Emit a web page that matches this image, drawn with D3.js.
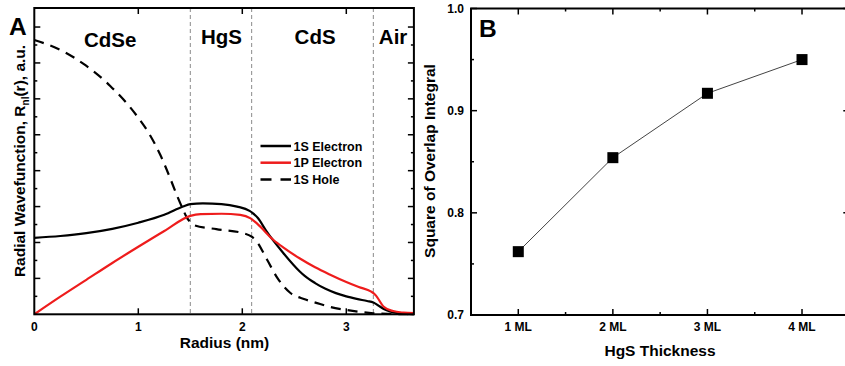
<!DOCTYPE html>
<html>
<head>
<meta charset="utf-8">
<script src="https://cdn.jsdelivr.net/npm/d3@7"></script>
<style>
  html, body { margin: 0; padding: 0; background: #fff; }
  svg { display: block; font-family: "Liberation Sans", Arial, sans-serif; font-weight: bold; }
</style>
</head>
<body>
<svg id="fig" width="845" height="366"></svg>
<script>
// Panel A: radial wavefunctions across the CdSe / HgS / CdS / Air shells
const radius1S = [0, 0.25, 0.5, 0.75, 1.0, 1.25, 1.43, 1.5, 1.62, 1.8, 1.95, 2.07, 2.1, 2.15, 2.23, 2.39, 2.55, 2.6, 2.7, 2.8, 2.9, 3.0, 3.1, 3.2, 3.26, 3.3, 3.36, 3.42, 3.5, 3.58, 3.65];
const electron1S = [2.13, 2.18, 2.26, 2.38, 2.55, 2.77, 3.00, 3.07, 3.09, 3.07, 3.00, 2.88, 2.82, 2.68, 2.32, 1.72, 1.20, 1.07, 0.87, 0.71, 0.59, 0.50, 0.43, 0.37, 0.33, 0.26, 0.15, 0.08, 0.03, 0.01, 0];

const radius1P = [0, 0.25, 0.5, 0.75, 1.0, 1.25, 1.5, 1.6, 1.8, 1.98, 2.08, 2.14, 2.3, 2.4, 2.55, 2.7, 2.84, 3.0, 3.12, 3.24, 3.28, 3.36, 3.45, 3.55, 3.65];
const electron1P = [0, 0.49, 0.96, 1.43, 1.88, 2.32, 2.74, 2.79, 2.80, 2.77, 2.67, 2.53, 2.07, 1.85, 1.56, 1.31, 1.11, 0.90, 0.76, 0.63, 0.54, 0.21, 0.09, 0.045, 0.03];

const radiusHole = [0, 0.28, 0.47, 0.73, 0.98, 1.1, 1.21, 1.305, 1.37, 1.43, 1.465, 1.5, 1.53, 1.75, 2.01, 2.09, 2.14, 2.24, 2.34, 2.46, 2.6, 2.72, 2.85, 3.0, 3.15, 3.26, 3.45, 3.65];
const hole1S = [7.64, 7.32, 6.98, 6.36, 5.55, 5.05, 4.45, 3.80, 3.32, 2.92, 2.70, 2.57, 2.49, 2.37, 2.26, 2.16, 2.02, 1.51, 1.00, 0.60, 0.42, 0.31, 0.20, 0.12, 0.06, 0.03, 0.01, 0];

const interfaces = [1.5, 2.09, 3.26];
const regionNames = ["CdSe", "HgS", "CdS", "Air"];
const regionCenters = [0.73, 1.80, 2.70, 3.45];
const radiusTicks = [0, 1, 2, 3];

const seriesNames = ["1S Electron", "1P Electron", "1S Hole"];

// Panel B: square of the overlap integral vs. HgS shell thickness
const thicknessLabels = ["1 ML", "2 ML", "3 ML", "4 ML"];
const overlapSquared = [0.762, 0.854, 0.917, 0.950];
const overlapTicks = [0.7, 0.8, 0.9, 1.0];

const svg = d3.select("#fig");
svg.append("rect").attr("width", 845).attr("height", 366).attr("fill", "#fff");

const RED = "#ee1c1c";

// ---------- Panel A ----------
const xA = d3.scaleLinear().domain([0, 3.65]).range([34.3, 413.9]);
const yA = d3.scaleLinear().domain([0, 8.53]).range([314.3, 8]);
const gA = svg.append("g");

// shell boundaries
gA.selectAll("line.iface").data(interfaces).join("line")
  .attr("x1", d => xA(d)).attr("x2", d => xA(d))
  .attr("y1", yA.range()[1]).attr("y2", yA.range()[0])
  .attr("stroke", "#8a8a8a").attr("stroke-width", 1).attr("stroke-dasharray", "4,3");

const lineA = (xs, ys) => d3.line()
  .x((d, i) => xA(xs[i])).y(d => yA(d))
  .curve(d3.curveMonotoneX)(ys);

gA.append("path").attr("d", lineA(radiusHole, hole1S))
  .attr("fill", "none").attr("stroke", "#000").attr("stroke-width", 2.2)
  .attr("stroke-dasharray", "10,7");
gA.append("path").attr("d", lineA(radius1S, electron1S))
  .attr("fill", "none").attr("stroke", "#000").attr("stroke-width", 2.2);
gA.append("path").attr("d", lineA(radius1P, electron1P))
  .attr("fill", "none").attr("stroke", RED).attr("stroke-width", 2.2);

// ticks (inward, all four sides)
const yMajorA = d3.range(1, 9);
const yMinorA = d3.range(0.5, 8.5, 1);
const tickA = gA.append("g").attr("stroke", "#000").attr("stroke-width", 1.5);
[xA.range()[0], xA.range()[1]].forEach((xe, side) => {
  const dir = side === 0 ? 1 : -1;
  yMajorA.forEach(v => tickA.append("line").attr("x1", xe).attr("x2", xe + dir * 6).attr("y1", yA(v)).attr("y2", yA(v)));
  yMinorA.forEach(v => tickA.append("line").attr("x1", xe).attr("x2", xe + dir * 3).attr("y1", yA(v)).attr("y2", yA(v)));
});
[yA.range()[0], yA.range()[1]].forEach((ye, side) => {
  const dir = side === 0 ? -1 : 1;
  radiusTicks.slice(1).forEach(v => tickA.append("line").attr("x1", xA(v)).attr("x2", xA(v)).attr("y1", ye).attr("y2", ye + dir * 6));
});

gA.append("rect")
  .attr("x", xA.range()[0]).attr("y", yA.range()[1])
  .attr("width", xA.range()[1] - xA.range()[0]).attr("height", yA.range()[0] - yA.range()[1])
  .attr("fill", "none").attr("stroke", "#000").attr("stroke-width", 2);

gA.selectAll("text.xt").data(radiusTicks).join("text")
  .attr("x", d => xA(d)).attr("y", 331).attr("text-anchor", "middle")
  .attr("font-size", 12).text(d => d);

gA.append("text").attr("x", 224.5).attr("y", 348).attr("text-anchor", "middle")
  .attr("font-size", 15.5).text("Radius (nm)");

const yTitleA = gA.append("text").attr("transform", "translate(25,161) rotate(-90)")
  .attr("text-anchor", "middle").attr("font-size", 15.5);
yTitleA.append("tspan").text("Radial Wavefunction, R");
yTitleA.append("tspan").attr("font-size", 10).attr("dy", 4).text("nl");
yTitleA.append("tspan").attr("dy", -4).text("(r), a.u.");

gA.selectAll("text.region").data(regionNames).join("text")
  .attr("x", (d, i) => xA(regionCenters[i])).attr("y", (d, i) => i === 0 ? 46.5 : 44)
  .attr("text-anchor", "middle").attr("font-size", 20.5).text(d => d);

gA.append("text").attr("x", 9).attr("y", 35).attr("font-size", 24.5).text("A");

// legend
const legendStyles = [
  { stroke: "#000", dash: null },
  { stroke: RED, dash: null },
  { stroke: "#000", dash: "11,9" }
];
const legend = gA.append("g");
seriesNames.forEach((name, i) => {
  const yy = 146 + i * 16.7;
  legend.append("line").attr("x1", 260.5).attr("x2", 291).attr("y1", yy).attr("y2", yy)
    .attr("stroke", legendStyles[i].stroke).attr("stroke-width", 2.5)
    .attr("stroke-dasharray", legendStyles[i].dash);
  legend.append("text").attr("x", 293.5).attr("y", yy + 4.5).attr("font-size", 12.5).text(name);
});

// ---------- Panel B ----------
const xB = d3.scaleLinear().domain([0.5, 4.5]).range([471, 849.3]);
const yB = d3.scaleLinear().domain([0.7, 1.0]).range([315, 8.5]);
const gB = svg.append("g");

const tickB = gB.append("g").attr("stroke", "#000").attr("stroke-width", 1.5);
const yMinorB = [0.75, 0.85, 0.95];
[xB.range()[0], xB.range()[1]].forEach((xe, side) => {
  const dir = side === 0 ? 1 : -1;
  overlapTicks.forEach(v => tickB.append("line").attr("x1", xe).attr("x2", xe + dir * 6).attr("y1", yB(v)).attr("y2", yB(v)));
  yMinorB.forEach(v => tickB.append("line").attr("x1", xe).attr("x2", xe + dir * 3).attr("y1", yB(v)).attr("y2", yB(v)));
});
const xMajorB = [1, 2, 3, 4];
const xMinorB = [1.5, 2.5, 3.5];
[yB.range()[0], yB.range()[1]].forEach((ye, side) => {
  const dir = side === 0 ? -1 : 1;
  xMajorB.forEach(v => tickB.append("line").attr("x1", xB(v)).attr("x2", xB(v)).attr("y1", ye).attr("y2", ye + dir * 6));
  xMinorB.forEach(v => tickB.append("line").attr("x1", xB(v)).attr("x2", xB(v)).attr("y1", ye).attr("y2", ye + dir * 3));
});

gB.append("rect")
  .attr("x", xB.range()[0]).attr("y", yB.range()[1])
  .attr("width", xB.range()[1] - xB.range()[0]).attr("height", yB.range()[0] - yB.range()[1])
  .attr("fill", "none").attr("stroke", "#000").attr("stroke-width", 2);

const ptsB = overlapSquared.map((v, i) => [xB(i + 1), yB(v)]);
gB.append("path").attr("d", d3.line()(ptsB))
  .attr("fill", "none").attr("stroke", "#444").attr("stroke-width", 1);
gB.selectAll("rect.pt").data(ptsB).join("rect")
  .attr("x", d => d[0] - 5.5).attr("y", d => d[1] - 5.5)
  .attr("width", 11).attr("height", 11).attr("fill", "#000");

gB.selectAll("text.yt").data(overlapTicks).join("text")
  .attr("x", 464).attr("y", d => yB(d) + 4.3).attr("text-anchor", "end")
  .attr("font-size", 12).text(d => d3.format(".1f")(d));

gB.selectAll("text.xt").data(thicknessLabels).join("text")
  .attr("x", (d, i) => xB(i + 1)).attr("y", 331).attr("text-anchor", "middle")
  .attr("font-size", 12).text(d => d);

gB.append("text").attr("x", 660).attr("y", 356).attr("text-anchor", "middle")
  .attr("font-size", 15.5).text("HgS Thickness");

gB.append("text").attr("transform", "translate(435,161) rotate(-90)")
  .attr("text-anchor", "middle").attr("font-size", 15.5).text("Square of Overlap Integral");

gB.append("text").attr("x", 479).attr("y", 37).attr("font-size", 24.5).text("B");
</script>
</body>
</html>
